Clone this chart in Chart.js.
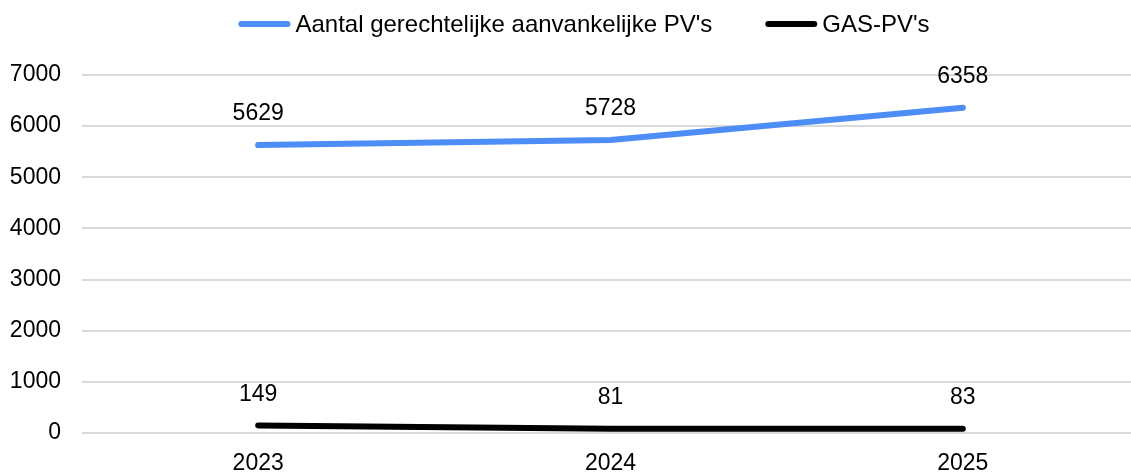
<!DOCTYPE html>
<html>
<head>
<meta charset="utf-8">
<script src="https://cdn.jsdelivr.net/npm/chart.js@4/dist/chart.umd.min.js"></script>
<style>
  body { margin: 0; background: #fff; overflow: hidden; }
  /* plot runs slightly past the right edge of the window, as in the original */
  #wrap { width: 1139px; height: 475px; }
</style>
</head>
<body>
<div id="wrap"><canvas id="chart"></canvas></div>
<script>
const years = ["2023", "2024", "2025"];
const pvCounts = [5629, 5728, 6358];
const gasCounts = [149, 81, 83];
const yTicks = [0, 1000, 2000, 3000, 4000, 5000, 6000, 7000];

const FONT = "'Liberation Sans', Arial, sans-serif";

// draws the value above each point
const valueLabels = {
  id: "valueLabels",
  afterDatasetsDraw(chart) {
    const ctx = chart.ctx;
    ctx.save();
    ctx.font = "23px " + FONT;
    ctx.fillStyle = "#000";
    ctx.textAlign = "center";
    ctx.textBaseline = "middle";
    chart.data.datasets.forEach((ds, i) => {
      chart.getDatasetMeta(i).data.forEach((pt, j) => {
        ctx.fillText(ds.data[j], pt.x, pt.y - 31);
      });
    });
    ctx.restore();
  },
};

// legend with short line swatches sitting right against the text
const lineLegend = {
  id: "lineLegend",
  afterDraw(chart) {
    const ctx = chart.ctx;
    const swatch = 52, gap = 5, itemGap = 53, y = 24;
    ctx.save();
    ctx.font = "24px " + FONT;
    const items = chart.data.datasets.map((ds) => ({
      text: ds.label,
      color: ds.borderColor,
      w: ctx.measureText(ds.label).width,
    }));
    const total =
      items.reduce((s, it) => s + swatch + gap + it.w, 0) +
      itemGap * (items.length - 1);
    let x = 584 - total / 2;
    items.forEach((it) => {
      ctx.strokeStyle = it.color;
      ctx.lineWidth = 6;
      ctx.lineCap = "round";
      ctx.beginPath();
      ctx.moveTo(x + 3, y);
      ctx.lineTo(x + swatch - 3, y);
      ctx.stroke();
      ctx.fillStyle = "#000";
      ctx.textBaseline = "middle";
      ctx.fillText(it.text, x + swatch + gap, y + 1);
      x += swatch + gap + it.w + itemGap;
    });
    ctx.restore();
  },
};

Chart.defaults.font.family = FONT;
Chart.defaults.font.size = 23;
Chart.defaults.color = "#000";

new Chart(document.getElementById("chart"), {
  type: "line",
  data: {
    labels: years,
    datasets: [
      {
        label: "Aantal gerechtelijke aanvankelijke PV's",
        data: pvCounts,
        borderColor: "#4c8df6",
        backgroundColor: "#4c8df6",
        borderWidth: 6,
        borderCapStyle: "round",
        pointRadius: 0,
        tension: 0,
      },
      {
        label: "GAS-PV's",
        data: gasCounts,
        borderColor: "#000",
        backgroundColor: "#000",
        borderWidth: 6,
        borderCapStyle: "round",
        pointRadius: 0,
        tension: 0,
      },
    ],
  },
  options: {
    responsive: true,
    maintainAspectRatio: false,
    animation: false,
    layout: { padding: { left: 0, right: 0, top: 75, bottom: 0 } },
    plugins: {
      legend: { display: false },
      tooltip: { enabled: false },
    },
    scales: {
      x: {
        offset: true,
        grid: { display: false, drawTicks: false },
        border: { display: false },
        ticks: { padding: 17 },
        afterFit: (scale) => {
          scale.height = 42;
        },
      },
      y: {
        min: 0,
        max: 7000,
        afterBuildTicks: (scale) => {
          scale.ticks = yTicks.map((v) => ({ value: v }));
        },
        grid: { color: "#d9d9d9", lineWidth: 2, drawTicks: false },
        border: { display: false },
        ticks: { padding: 21, callback: (v) => String(v) },
        afterFit: (scale) => {
          scale.width = 82;
        },
      },
    },
  },
  plugins: [valueLabels, lineLegend],
});
</script>
</body>
</html>
